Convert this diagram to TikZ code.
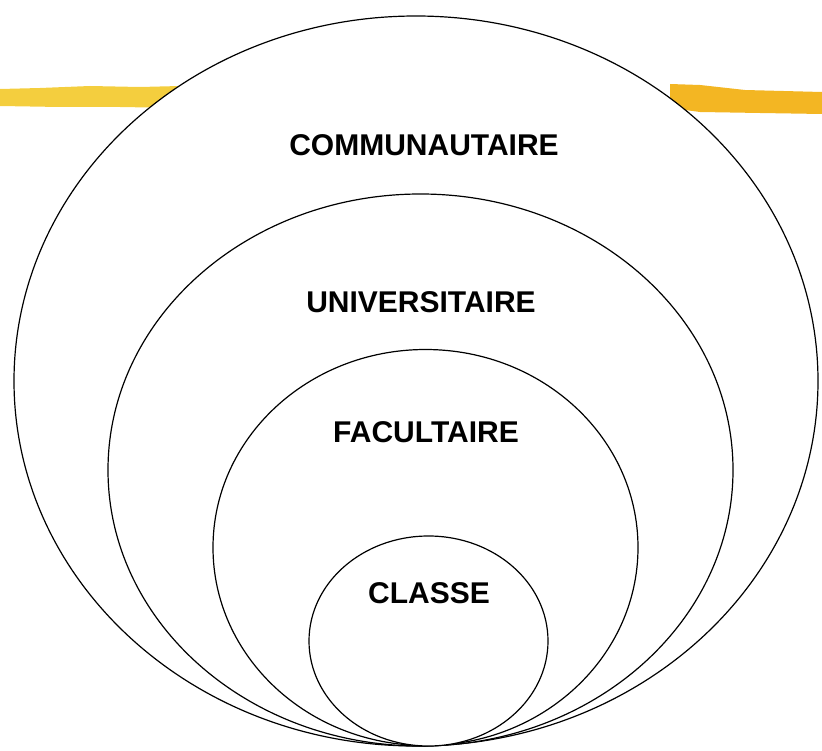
\documentclass[tikz,border=0pt]{standalone}
\usepackage{fontspec}
\setmainfont{Liberation Sans}
\usetikzlibrary{shapes.geometric}
\definecolor{brushA}{HTML}{F4CE3E}
\definecolor{brushB}{HTML}{F3B623}
\tikzset{
  ring/.style={ellipse, draw=black, fill=white, line width=1.2pt, inner sep=0pt},
  lbl/.style={font=\fontsize{30}{34}\selectfont\bfseries, text=black},
  brush/.style={draw=none}
}
\begin{document}
\begin{tikzpicture}[x=1pt,y=-1pt]
	\useasboundingbox (0,0) rectangle (822,751);
	% brush strokes behind the rings
	\fill[brushA] (0,89) -- (40,88) -- (90,86) -- (140,87) -- (180,86) -- (180,108) -- (120,107) -- (60,107) -- (0,106) -- cycle;
	\fill[brushB] (670,84) -- (700,85) -- (745,90) -- (822,92) -- (822,114) -- (760,113) -- (700,112) -- (670,108) -- cycle;
	%
	\node[ring, minimum width=804, minimum height=730] (comm) at (416,381) {};
	\node[ring, minimum width=625, minimum height=552] (univ) at (420.5,470) {};
	\node[ring, minimum width=425, minimum height=396] (fac) at (425.5,547.5) {};
	\node[ring, minimum width=239, minimum height=210] (cls) at (428.5,641) {};
	%
	\node[lbl] (commtxt) at (424,145) {COMMUNAUTAIRE};
	\node[lbl] (univtxt) at (421,302) {UNIVERSITAIRE};
	\node[lbl] (factxt) at (426,432) {FACULTAIRE};
	\node[lbl] (clstxt) at (429,593) {CLASSE};
\end{tikzpicture}
\end{document}
